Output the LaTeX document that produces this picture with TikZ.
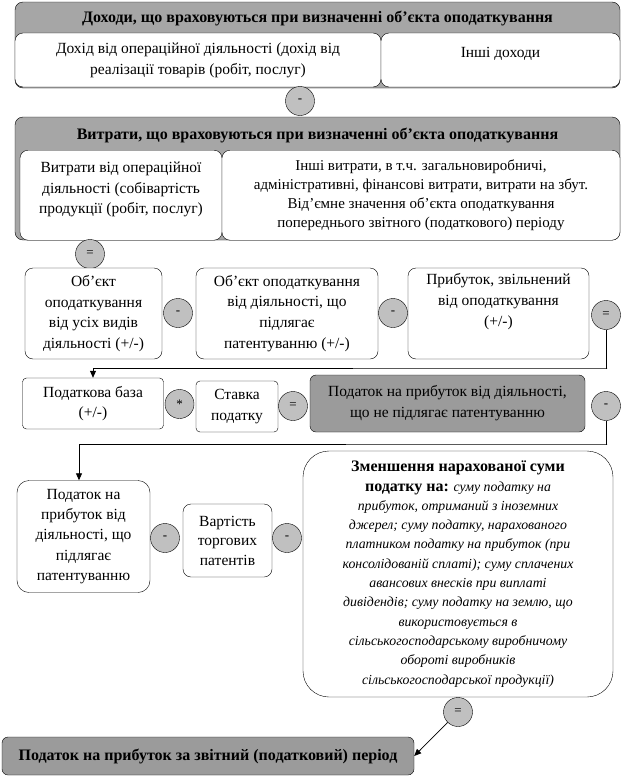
\documentclass[tikz,border=0pt]{standalone}
\usepackage{fontspec}
\setmainfont{Liberation Serif}
\usetikzlibrary{arrows.meta}
\definecolor{hdrgray}{RGB}{166,166,166}
\definecolor{boxgray}{RGB}{155,155,155}
\definecolor{circgray}{RGB}{192,192,192}
\tikzset{
  txt/.style={font=\fontsize{15.5}{20.8}\selectfont},
  bold/.style={font=\fontsize{16}{20.5}\selectfont\bfseries},
  wbox/.style={draw, rounded corners=8pt, fill=white, align=center, txt, inner sep=2pt},
  sbox/.style={draw, rounded corners=4pt, fill=white, align=center, txt, inner sep=2pt},
  gbox/.style={draw, rounded corners=8pt, fill=hdrgray, inner sep=0pt},
  opc/.style={draw, circle, fill=circgray, minimum size=29pt, inner sep=0pt, font=\fontsize{13}{13}\selectfont},
  conn/.style={draw, line width=0.8pt, -{Triangle[length=7pt,width=6pt]}},
}
\begin{document}
\begin{tikzpicture}[x=1pt,y=-1pt]
\useasboundingbox (0,0) rectangle (635,779);
% income
\node[gbox, minimum width=605pt, minimum height=86pt] (inc) at (317.5,45) {};
\node[bold] (inct) at (317.5,18) {Доходи, що враховуються при визначенні об'єкта оподаткування};
\node[wbox, minimum width=366pt, minimum height=54pt] (incop) at (198,60) {Дохід від операційної діяльності (дохід від\\реалізації товарів (робіт, послуг)};
\node[wbox, minimum width=239pt, minimum height=54pt] (incoth) at (500.5,60) {Інші доходи\\[-6pt]\mbox{}};
\node[opc] (c1) at (300,101) {-};
% expenses
\node[gbox, minimum width=605pt, minimum height=123pt] (exp) at (317.5,178.5) {};
\node[bold] (expt) at (317.5,135) {Витрати, що враховуються при визначенні об'єкта оподаткування};
\node[wbox, minimum width=202pt, minimum height=90pt, anchor=north] (expop) at (121,150) {Витрати від операційної\\діяльності (собівартість\\продукції (робіт, послуг)\\[-6pt]\mbox{}};
\node[wbox, minimum width=398pt, minimum height=90pt, anchor=north, font=\fontsize{15}{19}\selectfont] (expoth) at (421,150) {Інші витрати, в т.ч. загальновиробничі,\\адміністративні, фінансові витрати, витрати на збут.\\Від'ємне значення об'єкта оподаткування\\попереднього звітного (податкового) періоду};
\node[opc] (c2) at (90,254) {=};
% row 3
\node[wbox, minimum width=137pt, minimum height=91pt] (obj1) at (93.5,313.5) {Об'єкт\\оподаткування\\від усіх видів\\діяльності (+/-)};
\node[opc] (c3) at (178,313) {-};
\node[wbox, minimum width=182pt, minimum height=91pt] (obj2) at (287,313.5) {Об'єкт оподаткування\\від діяльності, що\\підлягає\\патентуванню (+/-)};
\node[opc] (c4) at (393,313) {-};
\node[wbox, minimum width=181pt, minimum height=91pt] (obj3) at (498.5,313.5) {Прибуток, звільнений\\від оподаткування\\(+/-)\\\strut};
\node[opc] (c5) at (606,315) {=};
% row 4
\node[sbox, minimum width=141pt, minimum height=51pt] (base) at (93,403.5) {Податкова база\\(+/-)};
\node[opc] (c6) at (179.5,404) {*};
\node[sbox, minimum width=82pt, minimum height=51pt] (rate) at (237,406.5) {Ставка\\податку};
\node[opc] (c7) at (293,406) {=};
\node[draw, rounded corners=6pt, fill=boxgray, align=center, txt, minimum width=275pt, minimum height=57pt] (tax1) at (447.5,403.5) {Податок на прибуток від діяльності,\\що не підлягає патентуванню};
\node[opc] (c8) at (606,406) {-};
% row 5
\node[wbox, rounded corners=12pt, minimum width=133pt, minimum height=112pt, font=\fontsize{15.5}{20.3}\selectfont] (tax2) at (83.5,536.5) {Податок на\\прибуток від\\діяльності, що\\підлягає\\патентуванню};
\node[opc] (c9) at (165,538) {-};
\node[wbox, minimum width=89pt, minimum height=73pt, font=\fontsize{15.5}{19.5}\selectfont] (pat) at (227.5,540.5) {Вартість\\торгових\\патентів};
\node[opc] (c10) at (287,538) {-};
\node[wbox, rounded corners=26pt, minimum width=310pt, minimum height=246pt, font=\fontsize{13.8}{19.3}\selectfont] (red) at (458,574) {{\fontsize{16}{19.3}\selectfont\textbf{Зменшення нарахованої суми}}\\{\fontsize{16}{19.3}\selectfont\textbf{податку на:}} \textit{суму податку на}\\\textit{прибуток, отриманий з іноземних}\\\textit{джерел; суму податку, нарахованого}\\\textit{платником податку на прибуток (при}\\\textit{консолідованій сплаті); суму сплачених}\\\textit{авансових внесків при виплаті}\\\textit{дивідендів; суму податку на землю, що}\\\textit{використовується в}\\\textit{сільськогосподарському виробничому}\\\textit{обороті виробників}\\\textit{сільськогосподарської продукції)}};
\node[opc] (c11) at (458,712) {=};
\node[draw, rounded corners=6pt, fill=boxgray, bold, minimum width=412pt, minimum height=38pt] (fin) at (208,756) {Податок на прибуток за звітний (податковий) період};
% connectors
\coordinate (k1) at (607,368);
\coordinate (k2) at (607,444);
\draw[conn] (c5.south) |- (k1) -| (base.north);
\draw[conn] (c8.south) |- (k2) -| (tax2.north -| 79,0);
\draw[conn] (c11) -- (fin.east);
\end{tikzpicture}
\end{document}
